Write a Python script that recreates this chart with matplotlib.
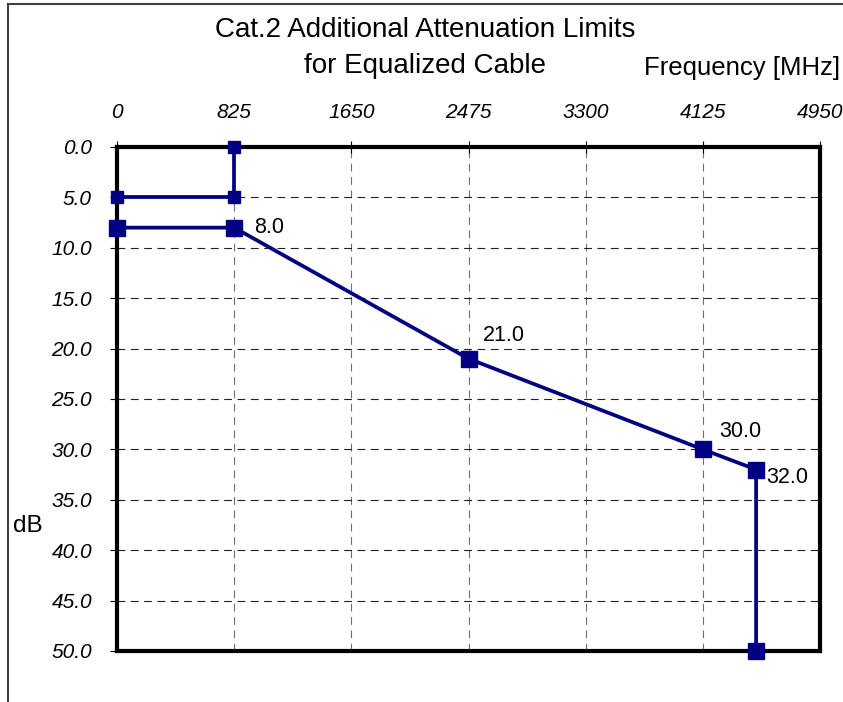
import matplotlib
matplotlib.use("Agg")
import matplotlib.pyplot as plt
from matplotlib.patches import Rectangle

# data
freq_upper = [825, 825, 0]
att_upper = [0.0, 5.0, 5.0]
freq_lower = [0, 825, 2475, 4125, 4500, 4500]
att_lower = [8.0, 8.0, 21.0, 30.0, 32.0, 50.0]
labelled = [1, 2, 3, 4]  # indices of the lower series that carry a value label
x_ticks = [0, 825, 1650, 2475, 3300, 4125, 4950]
y_ticks = [0, 5, 10, 15, 20, 25, 30, 35, 40, 45, 50]

navy = '#000080'
plt.rcParams['font.family'] = ['Liberation Sans', 'DejaVu Sans']

fig = plt.figure(figsize=(8.43, 7.02), dpi=100)
ax = fig.add_axes([117 / 843, 1 - 651 / 702, 703 / 843, 504 / 702])

ax.plot(freq_upper, att_upper, color=navy, lw=2.7, marker='s', ms=8.5, zorder=3, clip_on=False)
ax.plot(freq_lower, att_lower, color=navy, lw=2.7, marker='s', ms=11, zorder=3, clip_on=False)

# value labels (offsets in points)
offsets = {1: (14.5, 0), 2: (10, 17), 3: (12, 13), 4: (7, -5.5)}
for i in labelled:
    dx, dy = offsets[i]
    ax.annotate(f"{att_lower[i]:.1f}", (freq_lower[i], att_lower[i]),
                xytext=(dx, dy), textcoords='offset points',
                fontsize=15.5, ha='left', va='center')

ax.set_xlim(0, 4950)
ax.set_ylim(50, 0)
ax.set_xticks(x_ticks)
ax.set_yticks(y_ticks)
ax.set_yticklabels([f"{v:.1f}" for v in y_ticks], fontsize=15, style='italic')
ax.set_xticklabels([str(v) for v in x_ticks], fontsize=15, style='italic')
ax.xaxis.tick_top()
ax.tick_params(axis='x', direction='inout', length=8, width=0.8, pad=14)
ax.tick_params(axis='y', direction='out', length=5, width=0.8, pad=13)

for v in x_ticks[1:-1]:
    ax.axvline(v, color='#707070', lw=0.8, ls=(0, (7, 5)), zorder=1)
for v in y_ticks[1:-1]:
    ax.axhline(v, color='#202020', lw=0.8, ls=(0, (7, 5)), zorder=1)

for s in ax.spines.values():
    s.set_linewidth(3)
    s.set_color('black')

fig.text(425 / 843, 1 - 37 / 702, "Cat.2 Additional Attenuation Limits", ha='center', va='baseline', fontsize=20)
fig.text(425 / 843, 1 - 73 / 702, "for Equalized Cable", ha='center', va='baseline', fontsize=20)
fig.text(840 / 843, 1 - 75 / 702, "Frequency [MHz]", ha='right', va='baseline', fontsize=18.5)
fig.text(28 / 843, 1 - 526 / 702, "dB", ha='center', va='center', fontsize=17.5)

fig.add_artist(Rectangle((8 / 843, -0.1), 1.2, 1 - 4 / 702 + 0.1, transform=fig.transFigure,
                         fill=False, edgecolor='#404040', lw=1.5))

fig.savefig("out.png", dpi=100)
